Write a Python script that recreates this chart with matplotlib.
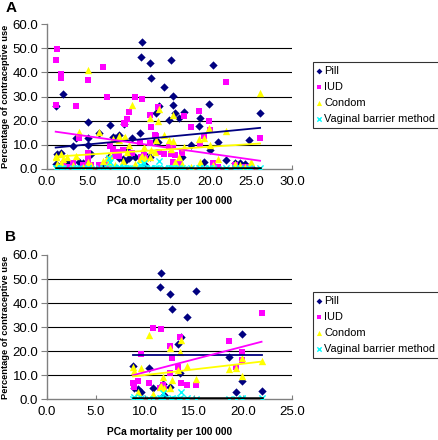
import numpy as np
import matplotlib
matplotlib.use("Agg")
import matplotlib.pyplot as plt

plt.rcParams['font.family'] = ['Liberation Sans', 'DejaVu Sans']

# countries shown in panel B (also part of panel A)
b_mortality = [8.8, 8.9, 9.3, 9.6, 10.4, 10.8, 11.5, 11.7, 11.9, 12.0, 12.6, 12.8,
               12.6, 13.4, 13.7, 13.6, 14.3, 15.2, 18.6, 19.3, 19.9, 19.95, 21.9]
b_pill = [14.0, 4.5, 4.3, 3.2, 12.9, 4.8, 46.5, 52.6, 6.2, 1.8, 43.8, 37.5,
          5.0, 23.0, 26.0, 11.0, 34.1, 45.2, 17.7, 2.9, 27.1, 7.8, 3.6]
b_iud = [6.9, 5.3, 7.8, 18.8, 6.6, 29.8, 4.8, 29.1, 5.8, 4.5, 22.2, 17.3,
         10.8, 13.6, 6.9, 25.8, 6.0, 6.0, 24.2, 13.6, 19.8, 16.3, 36.0]
b_condom = [13.6, 11.9, 3.2, 13.2, 26.7, 2.2, 5.0, 5.5, 9.1, 4.5, 21.2, 8.0,
            4.8, 12.2, 24.7, 19.8, 14.0, 8.4, 12.5, 12.9, 17.0, 9.8, 15.9]
b_vaginal = [0.3, 1.0, 0.2, 0.5, 0.1, 0.0, 0.4, 0.6, 2.5, 0.3, 0.2, 0.5,
             0.1, 0.3, 3.2, 0.4, 0.5, 0.3, 0.2, 0.3, 0.4, 0.3, 0.6]

# remaining countries, panel A only
o_mortality = [1.1, 1.2, 1.1, 1.8, 1.8, 2.0, 2.5, 3.2, 3.6, 3.9, 4.5, 5.0, 5.0, 5.1, 5.4,
               6.4, 6.9, 7.4, 7.6, 7.8, 8.1, 8.4, 9.5, 10.1, 9.8, 11.4, 13.3, 15.0, 15.4,
               15.5, 15.7, 16.2, 16.8, 16.5, 17.6, 18.7, 20.4, 20.9, 23.0, 23.6, 24.2,
               24.8, 26.1, 25.0]
o_pill = [26.1, 6.0, 2.0, 6.5, 1.5, 31.0, 3.0, 9.7, 12.7, 3.0, 2.5, 19.6, 10.0, 13.0, 6.0,
          15.0, 2.0, 2.5, 5.0, 18.3, 13.4, 13.0, 18.7, 4.5, 8.0, 14.7, 11.7, 20.3, 26.6,
          30.3, 23.4, 21.0, 23.8, 5.0, 10.0, 21.0, 43.2, 11.1, 2.5, 2.5, 2.0,
          12.0, 23.4, 1.0]
o_iud = [26.4, 49.9, 45.0, 39.4, 37.9, 2.0, 1.0, 2.5, 26.1, 13.0, 1.5, 36.9, 6.8, 4.0, 1.5,
         1.8, 42.2, 30.0, 2.0, 9.7, 8.4, 5.5, 19.0, 23.5, 20.6, 11.3, 14.1, 9.3, 3.0,
         9.5, 5.8, 2.0, 22.0, 6.5, 17.2, 10.0, 2.5, 1.0, 1.5, 0.5, 1.0,
         0.5, 13.0, 0.8]
o_condom = [4.8, 2.0, 5.5, 6.0, 2.5, 4.0, 5.0, 1.5, 5.5, 15.2, 1.0, 41.1, 3.0, 2.0, 1.5,
            15.2, 3.5, 4.5, 3.0, 5.5, 12.5, 1.5, 13.0, 10.0, 7.0, 4.0, 7.0, 12.0, 11.5,
            22.4, 3.0, 5.0, 9.3, 2.0, 1.0, 3.0, 1.5, 4.0, 2.0, 1.5, 1.0,
            0.5, 31.4, 3.0]
o_vaginal = [0.2, 0.1, 0.3, 0.0, 0.4, 0.2, 0.1, 0.3, 0.2, 0.5, 0.0, 0.3, 0.2, 0.6, 0.1,
             0.3, 0.2, 0.4, 4.4, 3.0, 0.2, 0.5, 0.3, 0.2, 0.5, 1.5, 0.4, 0.3, 0.2,
             0.5, 0.1, 0.3, 0.0, 0.4, 0.2, 0.3, 0.5, 0.1, 0.2, 0.4, 0.1,
             0.3, 0.2, 0.0]

a_mortality = b_mortality + o_mortality
a_pill = b_pill + o_pill
a_iud = b_iud + o_iud
a_condom = b_condom + o_condom
a_vaginal = b_vaginal + o_vaginal

# linear trendlines (slope, intercept)
a_trend = [(0.326, 8.52), (-0.482, 15.98), (0.217, 4.88), (0.0, 0.5)]
b_trend = [(0.0, 18.5), (1.063, 0.65), (0.471, 5.36), (0.0, 0.6)]

series_names = ['Pill', 'IUD', 'Condom', 'Vaginal barrier method']
colors = ['#000080', '#FF00FF', '#FFFF00', '#00FFFF']
line_colors = ['#000080', '#FF00FF', '#FFFF00', '#000000']
markers = ['D', 's', '^', 'x']
sizes = [18, 20, 28, 20]

fig = plt.figure(figsize=(4.38, 4.40), dpi=100)


def draw_panel(rect, x, ys, trends, xmax, letter, letter_top, legend_top):
    ax = fig.add_axes(rect)
    for lvl in [10, 20, 30, 40, 50]:
        ax.axhline(lvl, color='black', lw=0.8, zorder=1)
    handles = []
    for y, name, c, m, s in zip(ys, series_names, colors, markers, sizes):
        if m == 'x':
            h = ax.scatter(x, y, marker=m, s=s, color=c, linewidths=1.0, zorder=3, label=name)
        else:
            h = ax.scatter(x, y, marker=m, s=s, color=c, linewidths=0, zorder=3, label=name)
        handles.append(h)
    xs = np.array([min(x), max(x)])
    for (k, b), lc in zip(trends, line_colors):
        lw = 1.8 if lc == '#000000' else 1.3
        ax.plot(xs, k * xs + b, color=lc, lw=lw, zorder=4)
    ax.set_xlim(0, xmax)
    ax.set_ylim(0, 60)
    ax.set_xticks(np.arange(0, xmax + 0.1, 5))
    ax.set_yticks(np.arange(0, 61, 10))
    ax.xaxis.set_major_formatter(matplotlib.ticker.FormatStrFormatter('%.1f'))
    ax.yaxis.set_major_formatter(matplotlib.ticker.FormatStrFormatter('%.1f'))
    ax.tick_params(axis='x', direction='in', length=3, labelsize=9.5, pad=5, color='#808080')
    ax.tick_params(axis='y', direction='out', length=4, labelsize=9.5, pad=2, color='#808080')
    for sp in ['top', 'right']:
        ax.spines[sp].set_visible(False)
    for sp in ['left', 'bottom']:
        ax.spines[sp].set_color('#808080')
        ax.spines[sp].set_linewidth(1.0)
    ax.set_xlabel('PCa mortality per 100 000', fontsize=7.4, fontweight='bold', labelpad=6)
    ax.set_ylabel('Percentage of contraceptive use', fontsize=6.7, fontweight='bold', labelpad=2)
    fig.text(0.012, letter_top, letter, fontsize=11, fontweight='bold',
             ha='left', va='top')
    leg = fig.legend(handles=handles, loc='upper left', bbox_to_anchor=(0.714, legend_top),
                     fontsize=7.9, frameon=True, fancybox=False, edgecolor='black',
                     handlelength=0.5, handletextpad=0.2, borderpad=0.35,
                     labelspacing=0.55, borderaxespad=0, markerscale=0.7)
    leg.get_frame().set_linewidth(0.8)
    return ax


draw_panel([0.1066, 0.616, 0.560, 0.329], a_mortality,
           [a_pill, a_iud, a_condom, a_vaginal], a_trend, 30, 'A', 0.997, 0.859)
draw_panel([0.1066, 0.0925, 0.560, 0.328], b_mortality,
           [b_pill, b_iud, b_condom, b_vaginal], b_trend, 25, 'B', 0.477, 0.337)

fig.savefig('out.png', dpi=100)
